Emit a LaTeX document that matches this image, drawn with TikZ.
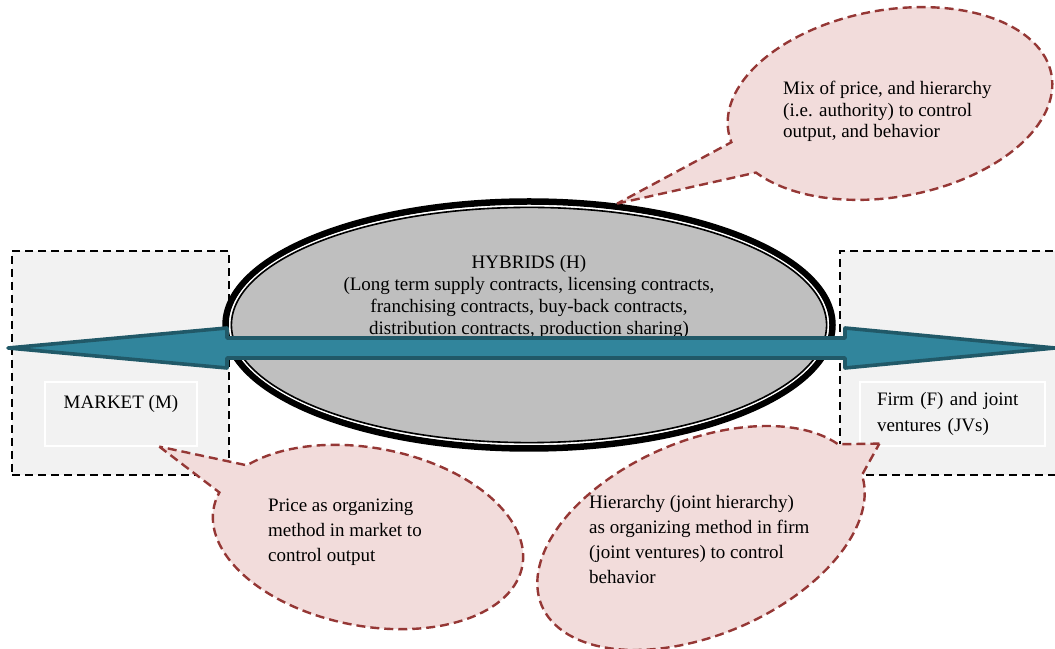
\documentclass[tikz,border=0pt]{standalone}
\usepackage{fontspec}
\setmainfont{Liberation Serif}
\usepackage{xcolor}
\usepackage{tikz}
\usetikzlibrary{positioning,calc,shapes.geometric}

\definecolor{boxgray}{RGB}{242,242,242}
\definecolor{hybgray}{RGB}{191,191,191}
\definecolor{arrowfill}{RGB}{49,133,156}
\definecolor{arrowline}{RGB}{33,89,104}
\definecolor{bubblefill}{RGB}{242,220,219}
\definecolor{bubbleline}{RGB}{149,55,53}

\begin{document}
\begin{tikzpicture}[
    x=1pt, y=1pt,
    font=\fontsize{19}{21.7}\selectfont,
    area/.style={draw, dash pattern=on 8pt off 5pt, line width=2.3pt, fill=boxgray, minimum width=217pt, minimum height=224pt},
    inbox/.style={draw=white, line width=1.2pt, fill=boxgray, minimum height=64pt},
    flow/.style={draw=arrowline, fill=arrowfill, line width=3.6pt, line join=round},
    bubble/.style={draw=bubbleline, fill=bubblefill, line width=2.4pt, dash pattern=on 9pt off 5pt},
    bubbletxt/.style={align=left, inner sep=0pt, anchor=west, font=\fontsize{19}{25}\selectfont}
]
\useasboundingbox (0,0) rectangle (1055,648);

% Left: market area
\node (marketarea) [area] at (120.5,285) {};
\node (market) [inbox, minimum width=152pt] at (121,234) {};
\node (marketlbl) [inner sep=0pt, below=14pt of market.north] {MARKET (M)};

% Right: firm area (runs off the page)
\node (firmarea) [area, minimum width=235pt] at (957.5,285) {};
\node (firm) [inbox, minimum width=185pt, text width=151pt, inner xsep=17pt, align=left,
    font=\fontsize{19}{26}\selectfont] at (952.5,234) {Firm (F) and joint\\ventures (JVs)};

% Middle: hybrids
\node (hybrid) [ellipse, draw, line width=6.5pt, fill=hybgray, minimum width=607pt, minimum height=247pt, inner sep=0pt] at (529,323) {};
\draw[white, line width=1.6pt] (hybrid.center) ellipse [x radius=299.2, y radius=119.2];
\draw[line width=1.6pt] (hybrid.center) ellipse [x radius=297.6, y radius=117.6];

\node (hybridtxt) [align=center, inner sep=0pt] at ($(hybrid.center)+(0,28)$) {
    HYBRIDS (H)\\(Long term supply contracts, licensing contracts,\\franchising contracts, buy-back contracts,\\distribution contracts, production sharing)
};

% Double arrow market <-> firm
\coordinate (westtip) at (8,300);
\coordinate (easttip) at (1055,300);
\draw[flow] (westtip) -- (227,320) -- (227,310) -- (845,310) -- (845,320) -- (easttip)
    -- (845,280) -- (845,290) -- (227,290) -- (227,280) -- cycle;

% Callout tips
\coordinate (tipH) at (hybrid.54);
\coordinate (tipM) at ($(market.south)!0.5!(market.south east)$);
\coordinate (tipF) at ($(firm.south west)+(20,3)$);

% Callout: hybrids
\begin{scope}[shift={(890,544.5)}, rotate=10]
    \draw[bubble] (tipH) -- (208.6:164 and 93.5) arc[start angle=208.6, end angle=546.5, x radius=164, y radius=93.5] -- cycle;
\end{scope}
\node (mixtxt) [bubbletxt, font=\fontsize{19}{21.7}\selectfont] at (783,536.5) {
    Mix of price, and hierarchy\\(i.e. authority) to control\\output, and behavior
};

% Callout: market
\begin{scope}[shift={(368,111)}, rotate=-10.7]
    \draw[bubble] (tipM) -- (169.5:157 and 89) arc[start angle=169.5, end angle=507.4, x radius=157, y radius=89] -- cycle;
\end{scope}
\node (pricetxt) [bubbletxt] at (268,116) {
    Price as organizing\\method in market to\\control output
};

% Callout: firm
\begin{scope}[shift={(701,110)}, rotate=23]
    \draw[bubble] (tipF) -- (19.7:173 and 97) arc[start angle=19.7, end angle=357.1, x radius=173, y radius=97] -- cycle;
\end{scope}
\node (hiertxt) [bubbletxt] at (589,108.5) {
    Hierarchy (joint hierarchy)\\as organizing method in firm\\(joint ventures) to control\\behavior
};

\end{tikzpicture}
\end{document}
